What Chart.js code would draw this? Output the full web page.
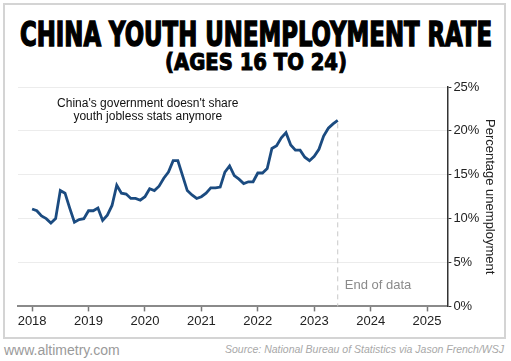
<!DOCTYPE html>
<html>
<head>
<meta charset="utf-8">
<script src="https://cdn.jsdelivr.net/npm/chart.js@4/dist/chart.umd.min.js"></script>
<style>
  html, body { margin: 0; padding: 0; background: #fff; }
  #wrap { position: relative; width: 511px; height: 361px; overflow: hidden; font-family: "Liberation Sans", Arial, sans-serif; }
  #frame { position: absolute; left: 3px; top: 3px; width: 499px; height: 332px; border: 2px solid #d4d4d4; }
  .ttl { position: absolute; white-space: nowrap; color: #000; transform-origin: 0 0;
         font-family: "Liberation Sans Narrow", "DejaVu Sans Condensed", "Liberation Sans", sans-serif; font-weight: bold;
         -webkit-text-stroke: 1.4px #000; }
  #t1 { top: 15px; font-size: 33px; line-height: 40px; }
  #t2 { top: 48px; font-size: 23px; line-height: 28px; -webkit-text-stroke: 1px #000; }
  #site { position: absolute; left: 4px; top: 342px; font-size: 14px; color: #9a9a9a; }
  #src { position: absolute; right: 7px; top: 343px; font-size: 10.5px; font-style: italic; color: #a8a8a8; }
  #cv { position: absolute; left: 0; top: 0; width: 511px; height: 361px; }
</style>
</head>
<body>
<div id="wrap">
  <div id="frame"></div>
  <div class="ttl" id="t1">CHINA YOUTH UNEMPLOYMENT RATE</div>
  <div class="ttl" id="t2">(AGES 16 TO 24)</div>
  <div id="site">www.altimetry.com</div>
  <div id="src">Source: National Bureau of Statistics via Jason French/WSJ</div>
  <div id="cv"><canvas id="chart"></canvas></div>
</div>
<script>
// monthly youth unemployment rate, Jan 2018 - Jun 2023
var startYear = 2018;
var rates = [
  11.1, 10.9, 10.3, 10.0, 9.5, 10.0, 13.2, 12.9, 11.2, 9.6, 9.9, 10.0,   // 2018
  10.9, 10.9, 11.2, 9.8, 10.4, 11.5, 13.8, 12.9, 12.8, 12.3, 12.3, 12.1, // 2019
  12.5, 13.4, 13.2, 13.7, 14.6, 15.3, 16.6, 16.6, 14.9, 13.2, 12.7, 12.3, // 2020
  12.5, 12.9, 13.5, 13.5, 13.6, 15.3, 16.0, 14.9, 14.5, 14.0, 14.2, 14.2, // 2021
  15.2, 15.2, 15.7, 18.0, 18.3, 19.2, 19.8, 18.4, 17.8, 17.8, 17.0, 16.6, // 2022
  17.1, 17.9, 19.4, 20.3, 20.8, 21.2                                     // 2023
];
var yearTicks = [2018, 2019, 2020, 2021, 2022, 2023, 2024, 2025];
var pctTicks = [0, 5, 10, 15, 20, 25];
var noteLines = ["China's government doesn't share", "youth jobless stats anymore"];
var endLabel = "End of data";

// squeeze the heavy titles to the reference width, centred
function fit(id, w, cx) {
  var el = document.getElementById(id);
  var r = el.getBoundingClientRect().width;
  el.style.left = (cx - w / 2) + 'px';
  el.style.transform = 'scaleX(' + (w / r) + ')';
}
fit('t1', 472, 256);
fit('t2', 182, 255.5);

var points = rates.map(function (v, i) { return { x: startYear + i / 12, y: v }; });
var lastPt = points[points.length - 1];

var notes = {
  id: 'notes',
  afterDatasetsDraw: function (chart) {
    var ctx = chart.ctx, xs = chart.scales.x, ys = chart.scales.y;
    var lx = xs.getPixelForValue(lastPt.x);
    ctx.save();
    ctx.strokeStyle = '#c8c8c8';
    ctx.lineWidth = 1;
    ctx.setLineDash([5, 4]);
    ctx.beginPath();
    ctx.moveTo(lx, ys.getPixelForValue(lastPt.y) + 3);
    ctx.lineTo(lx, ys.getPixelForValue(0));
    ctx.stroke();
    ctx.setLineDash([]);
    ctx.font = '13px "Liberation Sans", Arial, sans-serif';
    ctx.fillStyle = '#8a8a8a';
    ctx.textAlign = 'left';
    ctx.textBaseline = 'middle';
    ctx.fillText(endLabel, lx + 7, ys.getPixelForValue(2.35));
    ctx.font = '12px "Liberation Sans", Arial, sans-serif';
    ctx.fillStyle = '#111';
    ctx.textAlign = 'center';
    var cx = xs.getPixelForValue(2020.05);
    ctx.fillText(noteLines[0], cx, ys.getPixelForValue(23.1));
    ctx.fillText(noteLines[1], cx, ys.getPixelForValue(21.6));
    ctx.restore();
  }
};

Chart.defaults.font.family = '"Liberation Sans", Arial, sans-serif';
Chart.defaults.font.size = 13;
Chart.defaults.color = '#222';

new Chart(document.getElementById('chart'), {
  type: 'line',
  data: {
    datasets: [{
      data: points,
      borderColor: '#1b4b80',
      borderWidth: 2.8,
      pointRadius: 0,
      tension: 0,
      fill: false
    }]
  },
  options: {
    responsive: true,
    maintainAspectRatio: false,
    animation: false,
    layout: { padding: { left: 18, right: 12, top: 87, bottom: 30 } },
    plugins: { legend: { display: false }, tooltip: { enabled: false } },
    scales: {
      x: {
        type: 'linear',
        min: 2017.75,
        max: 2025.36,
        afterBuildTicks: function (s) { s.ticks = yearTicks.map(function (v) { return { value: v }; }); },
        ticks: { includeBounds: false, padding: 2, maxRotation: 0, color: '#222',
                 callback: function (v) { return String(v); } },
        grid: { drawOnChartArea: false, tickLength: 5, tickColor: '#777', tickWidth: 1.5 },
        border: { color: '#8a8a8a', width: 2 }
      },
      y: {
        position: 'right',
        min: 0,
        max: 25,
        afterBuildTicks: function (s) { s.ticks = pctTicks.map(function (v) { return { value: v }; }); },
        ticks: { padding: 2, color: '#222', callback: function (v) { return v + '%'; } },
        grid: { color: '#ececec', lineWidth: 1, tickLength: 4, tickColor: '#333' },
        border: { color: '#333', width: 1.5 },
        title: { display: true, text: 'Percentage unemployment', color: '#222', font: { size: 13 }, padding: { top: 2, bottom: 0 } }
      }
    }
  },
  plugins: [notes]
});
</script>
</body>
</html>
